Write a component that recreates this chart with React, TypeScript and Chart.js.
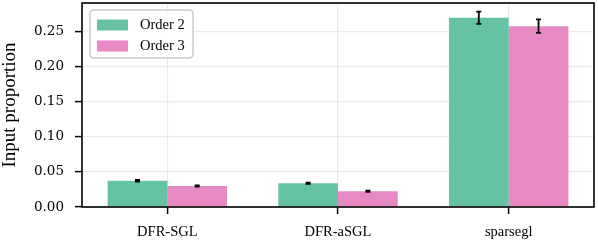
import React, { useEffect, useRef } from 'react';
import { Chart, registerables } from 'chart.js';

Chart.register(...registerables);

const categories = ['DFR-SGL', 'DFR-aSGL', 'sparsegl'];
const seriesLabels = ['Order 2', 'Order 3'];
const order2 = [0.0374, 0.0337, 0.2689];
const order3 = [0.0298, 0.0223, 0.2571];
const order2Err = [0.0012, 0.0008, 0.0087];
const order3Err = [0.0008, 0.0008, 0.0095];
const yTicks = [0, 0.05, 0.1, 0.15, 0.2, 0.25];
const yMax = 0.29;
const colors = ['#66c2a5', '#e78ac3'];

const SERIF = '"Liberation Serif", "Times New Roman", serif';
const TICKFONT = '"DejaVu Serif", serif';

const errorBarPlugin = {
  id: 'errorBars',
  afterDatasetsDraw(chart: any) {
    const ctx = chart.ctx;
    const yScale = chart.scales.y;
    ctx.save();
    ctx.strokeStyle = '#000';
    ctx.lineWidth = 1.8;
    chart.data.datasets.forEach((ds: any, i: number) => {
      const meta = chart.getDatasetMeta(i);
      meta.data.forEach((bar: any, j: number) => {
        const v = ds.data[j];
        const e = ds.errors[j];
        const x = bar.x;
        const yTop = yScale.getPixelForValue(v + e);
        const yBot = yScale.getPixelForValue(v - e);
        const cap = 2.5;
        ctx.beginPath();
        ctx.moveTo(x, yTop);
        ctx.lineTo(x, yBot);
        ctx.moveTo(x - cap, yTop);
        ctx.lineTo(x + cap, yTop);
        ctx.moveTo(x - cap, yBot);
        ctx.lineTo(x + cap, yBot);
        ctx.stroke();
      });
    });
    ctx.restore();
  },
};

const framePlugin = {
  id: 'frameLegend',
  afterDraw(chart: any) {
    const ctx = chart.ctx;
    const a = chart.chartArea;
    ctx.save();
    // legend
    const bx = a.left + 8;
    const by = a.top + 7;
    const bw = 103;
    const bh = 48;
    const r = 4;
    ctx.beginPath();
    ctx.moveTo(bx + r, by);
    ctx.lineTo(bx + bw - r, by);
    ctx.quadraticCurveTo(bx + bw, by, bx + bw, by + r);
    ctx.lineTo(bx + bw, by + bh - r);
    ctx.quadraticCurveTo(bx + bw, by + bh, bx + bw - r, by + bh);
    ctx.lineTo(bx + r, by + bh);
    ctx.quadraticCurveTo(bx, by + bh, bx, by + bh - r);
    ctx.lineTo(bx, by + r);
    ctx.quadraticCurveTo(bx, by, bx + r, by);
    ctx.closePath();
    ctx.fillStyle = 'rgba(255,255,255,0.85)';
    ctx.fill();
    ctx.strokeStyle = '#cccccc';
    ctx.lineWidth = 1.5;
    ctx.stroke();
    ctx.font = '14.5px ' + SERIF;
    ctx.textBaseline = 'middle';
    ctx.textAlign = 'left';
    chart.data.datasets.forEach((ds: any, i: number) => {
      const cy = by + 15 + i * 21;
      ctx.fillStyle = ds.backgroundColor;
      ctx.fillRect(bx + 7, cy - 5.5, 31, 11);
      ctx.fillStyle = '#000';
      ctx.fillText(ds.label, bx + 50, cy + 0.5);
    });
    // frame
    ctx.strokeStyle = '#000';
    ctx.lineWidth = 1.6;
    ctx.strokeRect(a.left, a.top, a.right - a.left, a.bottom - a.top);
    ctx.restore();
  },
};

export default function App() {
  const ref = useRef<HTMLCanvasElement>(null);
  useEffect(() => {
    if (!ref.current) return;
    const chart = new Chart(ref.current, {
      type: 'bar',
      data: {
        labels: categories,
        datasets: [
          { label: seriesLabels[0], data: order2, errors: order2Err, backgroundColor: colors[0], borderWidth: 0, categoryPercentage: 0.7, barPercentage: 1.0 } as any,
          { label: seriesLabels[1], data: order3, errors: order3Err, backgroundColor: colors[1], borderWidth: 0, categoryPercentage: 0.7, barPercentage: 1.0 } as any,
        ],
      },
      options: {
        responsive: false,
        animation: false,
        layout: { padding: { left: 0, top: 3, right: 4, bottom: 0 } },
        plugins: { legend: { display: false }, tooltip: { enabled: false } },
        scales: {
          x: {
            grid: { color: '#ebebeb', lineWidth: 1.2, tickColor: '#000', tickLength: 7, offset: false, tickWidth: 1.5 },
            border: { display: false },
            ticks: { color: '#000', font: { family: SERIF, size: 14.5 }, padding: 9, maxRotation: 0 },
            afterFit(scale: any) { scale.height = 35; scale.paddingLeft = 0; scale.paddingRight = 0; },
          },
          y: {
            min: 0,
            max: yMax,
            afterBuildTicks(scale: any) { scale.ticks = yTicks.map((v) => ({ value: v })); },
            grid: { color: '#ebebeb', lineWidth: 1.2, tickColor: '#000', tickLength: 7, tickWidth: 1.5 },
            border: { display: false },
            ticks: { color: '#000', font: { family: TICKFONT, size: 13.5 }, padding: 11, callback: (v: any) => Number(v).toFixed(2) },
            title: { display: true, text: 'Input proportion', color: '#000', font: { family: SERIF, size: 19 }, padding: { top: -1, bottom: 0 } },
            afterFit(scale: any) { scale.width = 82; scale.paddingTop = 0; scale.paddingBottom = 0; },
          },
        },
      },
      plugins: [errorBarPlugin, framePlugin],
    });
    return () => chart.destroy();
  }, []);
  return (
    <div style={{ position: 'fixed', left: 0, top: 0, width: 598, height: 242, background: '#fff' }}>
      <canvas ref={ref} width={598} height={242} style={{ display: 'block', width: 598, height: 242 }} />
    </div>
  );
}
